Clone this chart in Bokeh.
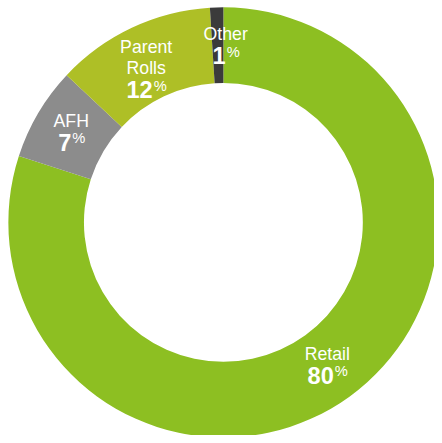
import math
from bokeh.plotting import figure
from bokeh.models import Range1d, ColumnDataSource
from bokeh.core.properties import value
from bokeh.embed import file_html
from bokeh.resources import INLINE

# ---- data ----
categories = ["Retail", "AFH", "Parent Rolls", "Other"]
shares = [80, 7, 12, 1]
colors = ["#8DBF22", "#8C8C8C", "#AEBF26", "#3B3B3B"]

# ---- layout ----
W, H = 434, 435
S = W / 442.0
CX_PX, CY_PX = 227 * S, 226 * S
R_OUT, R_IN = 219 * S, 142 * S
LABEL_R = 180 * S
label_dx = [0, 0, -2 * S, 8 * S]
label_dy = [0, 0, -7 * S, 0]
NAME_SIZE = 18 * S
NUM_SIZE = 24 * S
PCT_SIZE = 15 * S
CAP = 13 * S
LINE = 22 * S
PCT_GAP = 24 * S
SUP = 7 * S
BASE_FIX = 0.36  # renderer places the alphabetic baseline lower; lift by this fraction of font size
FONT = "Liberation Sans"

p = figure(width=W, height=H, output_backend="svg", toolbar_location=None,
           x_range=Range1d(-CX_PX, W - CX_PX), y_range=Range1d(-(H - CY_PX), CY_PX),
           min_border=0)
p.axis.visible = False
p.grid.visible = False
p.outline_line_color = None
p.background_fill_color = "white"
p.border_fill_color = "white"

total = sum(shares)
start, end, mid = [], [], []
cum = 0
for s in shares:
    a0 = math.pi / 2 - 2 * math.pi * cum / total
    cum += s
    a1 = math.pi / 2 - 2 * math.pi * cum / total
    start.append(a1)
    end.append(a0)
    mid.append((a0 + a1) / 2)

src = ColumnDataSource(dict(x=[0] * len(shares), y=[0] * len(shares),
                            start=start, end=end, color=colors))
p.annular_wedge(x="x", y="y", inner_radius=R_IN, outer_radius=R_OUT,
                start_angle="start", end_angle="end", fill_color="color",
                line_color=None, source=src)

name_x, name_y, name_t = [], [], []
num_x, num_y, num_t = [], [], []
pct_x, pct_y = [], []
for i, (c, s) in enumerate(zip(categories, shares)):
    ax = LABEL_R * math.cos(mid[i]) + label_dx[i]
    ay = LABEL_R * math.sin(mid[i]) + label_dy[i]
    lines = c.split(" ")
    n = len(lines)
    height = CAP + LINE * (n - 1) + PCT_GAP
    top = ay + height / 2
    for k, ln in enumerate(lines):
        name_x.append(ax)
        name_y.append(top - CAP - LINE * k + BASE_FIX * NAME_SIZE)
        name_t.append(ln)
    base = top - CAP - LINE * (n - 1) - PCT_GAP
    digits = str(s)
    wd = len(digits) * 0.556 * NUM_SIZE
    wp = 0.889 * PCT_SIZE
    split = ax - (wd + wp) / 2 + wd
    num_x.append(split)
    num_y.append(base + BASE_FIX * NUM_SIZE)
    num_t.append(digits)
    pct_x.append(split + 1)
    pct_y.append(base + SUP + BASE_FIX * PCT_SIZE)

p.text(x=name_x, y=name_y, text=name_t, text_color="white",
       text_font=value(FONT), text_font_size=value(f"{NAME_SIZE:.1f}px"),
       text_align="center", text_baseline="alphabetic")
p.text(x=num_x, y=num_y, text=num_t, text_color="white",
       text_font=value(FONT), text_font_size=value(f"{NUM_SIZE:.1f}px"),
       text_font_style="bold", text_align="right", text_baseline="alphabetic")
p.text(x=pct_x, y=pct_y, text=["%"] * len(pct_x), text_color="white",
       text_font=value(FONT), text_font_size=value(f"{PCT_SIZE:.1f}px"),
       text_align="left", text_baseline="alphabetic")

open("out.html", "w").write(file_html(p, INLINE))
